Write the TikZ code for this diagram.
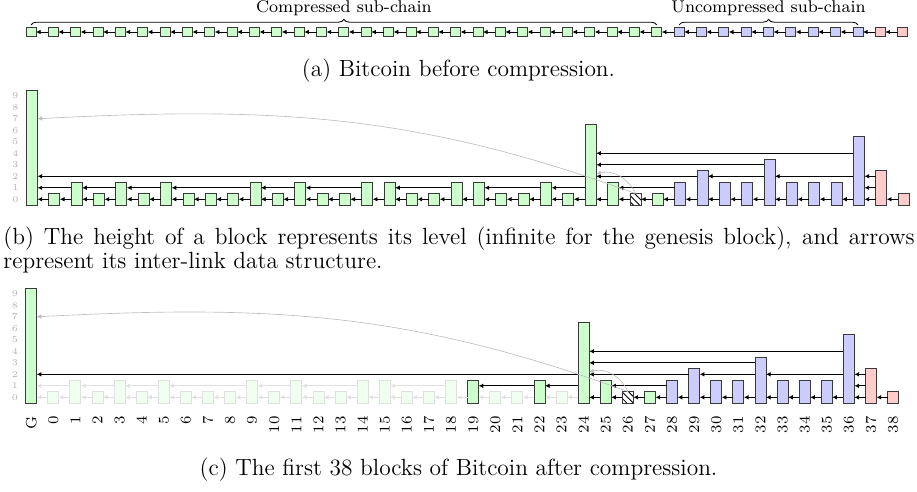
\documentclass[tikz,border=0pt]{standalone}
\usetikzlibrary{arrows.meta, decorations.pathreplacing, patterns}
\definecolor{grnfill}{HTML}{CCFFCC}
\definecolor{purfill}{HTML}{CCCCFF}
\definecolor{redfill}{HTML}{FFCCCC}
\definecolor{edge}{HTML}{3A3A3A}
\definecolor{faint}{HTML}{BDBDBD}
\tikzset{
  blk/.style  = {draw=edge, thin, inner sep=0pt, outer sep=0pt,
                 anchor=south, minimum width=5.17pt},
  sq/.style   = {draw=edge, thin, inner sep=0pt, outer sep=0pt,
                 minimum width=4.7pt, minimum height=4.23pt},
  grn/.style  = {fill=grnfill},
  pur/.style  = {fill=purfill},
  rd/.style   = {fill=redfill},
  hch/.style  = {pattern=north west lines},
  fad/.style  = {draw=black!12, fill=grnfill!30},
  lnk/.style  = {-{Latex[length=2.2pt,width=2.2pt]}, thin, black},
  flnk/.style = {lnk, black!12},
  glnk/.style = {-{Latex[length=2.2pt,width=2.2pt]}, faint, line width=0.3pt},
  brc/.style  = {decorate, decoration={brace, amplitude=2.6pt}, thin},
  axl/.style  = {font=\fontsize{4.2}{4.2}\selectfont, text=black!30, inner sep=0pt},
  nlab/.style = {rotate=90, anchor=east, inner sep=0pt, font=\scriptsize},
  capt/.style = {font=\fontsize{11}{11}\selectfont, inner sep=0pt},
}

\begin{document}
\begin{tikzpicture}[x=0.47pt, y=0.47pt]
  \useasboundingbox (0,0) rectangle (917,-491);

  % (a) the chain before compression
  \begin{scope}[shift={(31,-32)}, x=10.5045pt]
    \node[sq, grn] (aG) at (0,0) {};
    \foreach \k in {0,...,27} \node[sq, grn] (a\k) at (\k+1,0) {};
    \foreach \k in {28,...,36} \node[sq, pur] (a\k) at (\k+1,0) {};
    \foreach \k in {37,38} \node[sq, rd] (a\k) at (\k+1,0) {};
    \foreach \k [remember=\k as \p (initially G)] in {0,...,38}
      \draw[lnk] (a\k) -- (a\p);
    \draw[brc] ([yshift=1.2pt]aG.north) -- ([yshift=1.2pt]a27.north)
      node[midway, above=4pt, inner sep=0pt, font=\footnotesize] {Compressed sub-chain};
    \draw[brc] ([yshift=1.2pt]a28.north) -- ([yshift=1.2pt]a36.north)
      node[midway, above=4pt, inner sep=0pt, font=\footnotesize] {Uncompressed sub-chain};
  \end{scope}
  \node[capt] (capa) at (458.5,-71) {(a) Bitcoin before compression.};

  % (b) levels and inter-links
  \begin{scope}[shift={(32,-199.25)}, x=10.5045pt, y=5.405pt]
    \foreach \l in {0,...,9} \node[axl] at (-0.74,\l) {\l};
    \foreach \n/\lv/\st [count=\i from 0] in {G/9/grn,
        0/0/grn, 1/1/grn, 2/0/grn, 3/1/grn, 4/0/grn, 5/1/grn, 6/0/grn,
        7/0/grn, 8/0/grn, 9/1/grn, 10/0/grn, 11/1/grn, 12/0/grn, 13/0/grn,
        14/1/grn, 15/1/grn, 16/0/grn, 17/0/grn, 18/1/grn, 19/1/grn,
        20/0/grn, 21/0/grn, 22/1/grn, 23/0/grn, 24/6/grn, 25/1/grn,
        26/0/hch, 27/0/grn, 28/1/pur, 29/2/pur, 30/1/pur, 31/1/pur,
        32/3/pur, 33/1/pur, 34/1/pur, 35/1/pur, 36/5/pur, 37/2/rd, 38/0/rd}
      \node[blk, \st, minimum height={(\lv+1)*5.405pt}] (b\n) at (\i,-0.5) {};
    \foreach \k [remember=\k as \p (initially G)] in {0,...,38}
      \draw[lnk] (b\k.west |- 0,0) -- (b\p.east |- 0,0);
    \foreach \s/\t/\l in {1/G/1, 3/1/1, 5/3/1, 9/5/1, 11/9/1, 14/11/1,
        18/15/1, 22/19/1, 24/22/1, 24/G/2, 28/25/1, 29/24/2, 32/29/2,
        32/24/3, 36/32/2, 36/24/4, 37/36/1, 37/36/2}
      \draw[lnk] (b\s.west |- 0,\l) -- (b\t.east |- 0,\l);
    \draw[glnk] (b26.north) to[out=160, in=3] (bG.east |- 0,7);
    \draw[glnk] (b26.north) to[out=115, in=15] (b24.east |- 0,2.2);
  \end{scope}
  \node[capt, anchor=north west, text width=428.3pt, align=justify] (capb) at (3,-227)
    {(b) The height of a block represents its level (infinite for the genesis block), and arrows\linebreak
     represent its inter-link data structure.};

  % (c) after compression
  \begin{scope}[shift={(31.2,-397.3)}, x=10.387pt, y=5.405pt]
    \foreach \l in {0,...,9} \node[axl] at (-0.74,\l) {\l};
    \foreach \n/\lv/\st [count=\i from 0] in {G/9/grn,
        0/0/fad, 1/1/fad, 2/0/fad, 3/1/fad, 4/0/fad, 5/1/fad, 6/0/fad,
        7/0/fad, 8/0/fad, 9/1/fad, 10/0/fad, 11/1/fad, 12/0/fad, 13/0/fad,
        14/1/fad, 15/1/fad, 16/0/fad, 17/0/fad, 18/1/fad, 19/1/grn,
        20/0/fad, 21/0/fad, 22/1/grn, 23/0/fad, 24/6/grn, 25/1/grn,
        26/0/hch, 27/0/grn, 28/1/pur, 29/2/pur, 30/1/pur, 31/1/pur,
        32/3/pur, 33/1/pur, 34/1/pur, 35/1/pur, 36/5/pur, 37/2/rd, 38/0/rd}
      \node[blk, \st, minimum height={(\lv+1)*5.405pt}] (c\n) at (\i,-0.5) {};
    \foreach \k [remember=\k as \p (initially G)] in {0,...,24}
      \draw[flnk] (c\k.west |- 0,0) -- (c\p.east |- 0,0);
    \foreach \k [remember=\k as \p (initially 24)] in {25,...,38}
      \draw[lnk] (c\k.west |- 0,0) -- (c\p.east |- 0,0);
    \foreach \s/\t/\l in {1/G/1, 3/1/1, 5/3/1, 9/5/1, 11/9/1, 14/11/1, 18/15/1}
      \draw[flnk] (c\s.west |- 0,\l) -- (c\t.east |- 0,\l);
    \foreach \s/\t/\l in {22/19/1, 24/22/1, 24/G/2, 28/25/1, 29/24/2, 32/29/2,
        32/24/3, 36/32/2, 36/24/4, 37/36/1, 37/36/2}
      \draw[lnk] (c\s.west |- 0,\l) -- (c\t.east |- 0,\l);
    \draw[glnk] (c26.north) to[out=160, in=3] (cG.east |- 0,7);
    \draw[glnk] (c26.north) to[out=115, in=15] (c24.east |- 0,2.2);
    \node[nlab] at ([yshift=-6pt]cG.south) {G};
    \foreach \k in {0,...,38} \node[nlab] at ([yshift=-6pt]c\k.south) {\k};
  \end{scope}
  \node[capt] (capc) at (458.5,-470) {(c) The first 38 blocks of Bitcoin after compression.};
\end{tikzpicture}
\end{document}
